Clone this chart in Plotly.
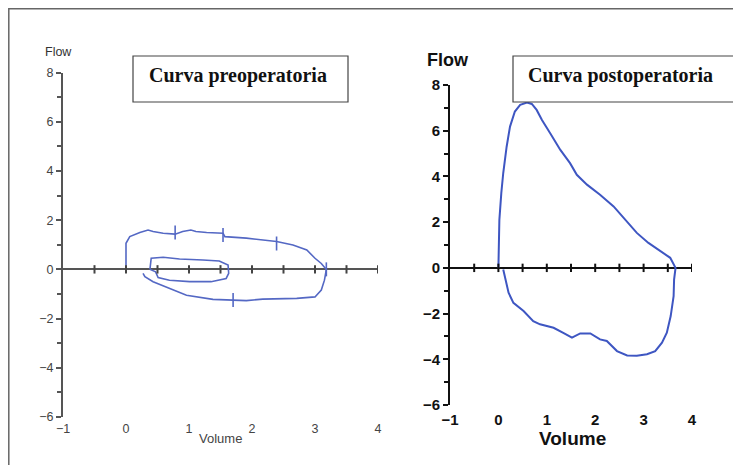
import numpy as np
import plotly.graph_objects as go

# the page body adds an 8px margin, so the figure is drawn 8px in and the
# coordinates below (measured on the 741x465 screenshot) are shifted by it
OFF = 8
W, H = 741 - OFF, 465 - OFF

# ---- data ----
pre_outer_vol = [0, 0, 0.06, 0.22, 0.35, 0.43, 0.59, 0.78, 0.9, 1.03, 1.11, 1.28, 1.54, 1.57, 1.91, 2.17,
                 2.39, 2.65, 2.87, 3.0, 3.1, 3.18, 3.15, 3.1, 3.0, 2.71, 2.17, 1.91, 1.7, 1.38, 0.96, 0.69,
                 0.43, 0.3, 0.27]
pre_outer_flow = [0, 1.06, 1.33, 1.5, 1.6, 1.54, 1.47, 1.43, 1.54, 1.6, 1.54, 1.5, 1.47, 1.33, 1.27, 1.2,
                  1.13, 0.99, 0.79, 0.45, 0.24, 0, -0.44, -0.84, -1.12, -1.18, -1.21, -1.27, -1.25, -1.22,
                  -1.05, -0.78, -0.5, -0.3, -0.16]
pre_inner_vol = [0.38, 0.4, 0.59, 0.85, 1.22, 1.48, 1.62, 1.63, 1.59, 1.35, 1.01, 0.69, 0.51, 0.47]
pre_inner_flow = [0, 0.45, 0.49, 0.42, 0.38, 0.34, 0.18, -0.16, -0.37, -0.5, -0.5, -0.44, -0.33, -0.1]
pre_marks_vol = [0.78, 1.54, 2.39, 1.7, 3.18]
pre_marks_flow = [1.5, 1.4, 1.05, -1.25, 0.0]

post_vol = [0, 0.01, 0.02, 0.06, 0.1, 0.17, 0.24, 0.34, 0.45, 0.59, 0.69, 0.79, 0.9, 1.07, 1.28, 1.48,
            1.62, 1.83, 2.1, 2.38, 2.66, 2.86, 3.1, 3.34, 3.55, 3.66, 3.63, 3.62, 3.56, 3.48, 3.38, 3.24,
            3.07, 2.86, 2.66, 2.45, 2.24, 2.1, 1.9, 1.69, 1.52, 1.34, 1.14, 0.86, 0.72, 0.52, 0.31, 0.21,
            0.14, 0.1]
post_flow = [0, 0.95, 2.1, 3.27, 4.15, 5.3, 6.18, 6.84, 7.13, 7.23, 7.17, 6.91, 6.47, 5.89, 5.16, 4.58,
             4.07, 3.64, 3.2, 2.69, 2.04, 1.53, 1.09, 0.73, 0.44, 0, -0.51, -1.24, -2.11, -2.84, -3.27,
             -3.64, -3.78, -3.85, -3.83, -3.64, -3.2, -3.13, -2.87, -2.87, -3.05, -2.84, -2.62, -2.47,
             -2.33, -1.89, -1.53, -1.09, -0.36, -0.07]

x_ticks = [-1, 0, 1, 2, 3, 4]
y_ticks = [-6, -4, -2, 0, 2, 4, 6, 8]
x_range = [-1, 4]
y_range = [-6, 8]
title_left = "Curva preoperatoria"
title_right = "Curva postoperatoria"


def px(x):
    return (x - OFF) / W


def py(y):
    return 1 - (y - OFF) / H


fig = go.Figure()

# left chart
fig.add_trace(go.Scatter(x=pre_outer_vol, y=pre_outer_flow, mode="lines",
                         line=dict(color="#5468c4", width=1.6), xaxis="x", yaxis="y", showlegend=False))
fig.add_trace(go.Scatter(x=pre_inner_vol + [pre_inner_vol[0]], y=pre_inner_flow + [pre_inner_flow[0]],
                         mode="lines", line=dict(color="#5468c4", width=1.6), xaxis="x", yaxis="y",
                         showlegend=False))
fig.add_trace(go.Scatter(x=pre_marks_vol, y=pre_marks_flow, mode="markers",
                         marker=dict(symbol="line-ns", size=10, line=dict(color="#5468c4", width=1.6)),
                         xaxis="x", yaxis="y", showlegend=False))
axis_ticks_x = np.arange(-0.5, 4.01, 0.5)
fig.add_trace(go.Scatter(x=axis_ticks_x, y=np.zeros_like(axis_ticks_x), mode="markers",
                         marker=dict(symbol="line-ns", size=6, line=dict(color="#444", width=2)),
                         xaxis="x", yaxis="y", showlegend=False, hoverinfo="skip"))

# right chart
fig.add_trace(go.Scatter(x=post_vol, y=post_flow, mode="lines",
                         line=dict(color="#3e56c2", width=2), xaxis="x2", yaxis="y2", showlegend=False))
fig.add_trace(go.Scatter(x=axis_ticks_x, y=np.zeros_like(axis_ticks_x), mode="markers",
                         marker=dict(symbol="line-ns", size=6, line=dict(color="#111", width=2)),
                         xaxis="x2", yaxis="y2", showlegend=False, hoverinfo="skip"))

left_tickfont = dict(family="Liberation Sans, Arial", size=12.5, color="#444")
right_tickfont = dict(family="Liberation Sans, Arial", size=15, color="#111", weight="bold")

common_x = dict(range=x_range, tickvals=x_ticks, showgrid=False, zeroline=False, showline=False,
                ticks="", fixedrange=True, automargin=False)
common_y = dict(range=y_range, tickvals=y_ticks, showgrid=False, zeroline=True, showline=True,
                ticks="outside", ticklen=5, fixedrange=True, automargin=False)

fig.update_layout(
    width=W, height=H,
    margin=dict(l=0, r=0, t=0, b=0, pad=0, autoexpand=False),
    paper_bgcolor="white", plot_bgcolor="white",
    xaxis=dict(**common_x, domain=[px(63), px(378)], anchor="y", tickfont=left_tickfont,
               ticklabelstandoff=2),
    yaxis=dict(**common_y, domain=[py(417), py(72.5)], anchor="x", tickfont=left_tickfont,
               linecolor="#555", linewidth=2, tickcolor="#555", tickwidth=2,
               zerolinecolor="#555", zerolinewidth=2,
               minor=dict(dtick=1, ticks="outside", ticklen=4, tickcolor="#555", tickwidth=2)),
    xaxis2=dict(**common_x, domain=[px(450), px(692)], anchor="y2", tickfont=right_tickfont,
                ticklabelstandoff=4),
    yaxis2=dict(**common_y, domain=[py(405), py(85)], anchor="x2", tickfont=right_tickfont,
                linecolor="#111", linewidth=2, tickcolor="#111", tickwidth=2,
                zerolinecolor="#111", zerolinewidth=2,
                minor=dict(dtick=1, ticks="outside", ticklen=4, tickcolor="#111", tickwidth=2)),
    shapes=[
        dict(type="rect", xref="paper", yref="paper", x0=px(8.8), x1=px(760), y0=py(480), y1=py(8.8),
             line=dict(color="#666", width=1.5)),
        dict(type="rect", xref="paper", yref="paper", x0=px(133), x1=px(348), y0=py(102), y1=py(56),
             line=dict(color="#444", width=1.2), fillcolor="white", layer="above"),
        dict(type="rect", xref="paper", yref="paper", x0=px(513), x1=px(760), y0=py(102), y1=py(56),
             line=dict(color="#444", width=1.2), fillcolor="white", layer="above"),
    ],
    annotations=[
        dict(text=title_left, xref="paper", yref="paper", x=px(238), y=py(75), xanchor="center",
             yanchor="middle", showarrow=False,
             font=dict(family="Liberation Serif, Times New Roman", size=20, color="#111", weight="bold")),
        dict(text=title_right, xref="paper", yref="paper", x=px(526), y=py(75), xanchor="left",
             yanchor="middle", showarrow=False,
             font=dict(family="Liberation Serif, Times New Roman", size=20, color="#111", weight="bold")),
        dict(text="Flow", xref="paper", yref="paper", x=px(58), y=py(52), xanchor="center",
             yanchor="middle", showarrow=False,
             font=dict(family="Liberation Sans, Arial", size=12.5, color="#333")),
        dict(text="Flow", xref="paper", yref="paper", x=px(448), y=py(60), xanchor="center",
             yanchor="middle", showarrow=False,
             font=dict(family="Liberation Sans, Arial", size=18, color="#111", weight="bold")),
        dict(text="Volume", xref="paper", yref="paper", x=px(221), y=py(438), xanchor="center",
             yanchor="middle", showarrow=False,
             font=dict(family="Liberation Sans, Arial", size=13, color="#444")),
        dict(text="Volume", xref="paper", yref="paper", x=px(572), y=py(438), xanchor="center",
             yanchor="middle", showarrow=False,
             font=dict(family="Liberation Sans, Arial", size=19, color="#111", weight="bold")),
    ],
)

fig.write_html("out.html")
